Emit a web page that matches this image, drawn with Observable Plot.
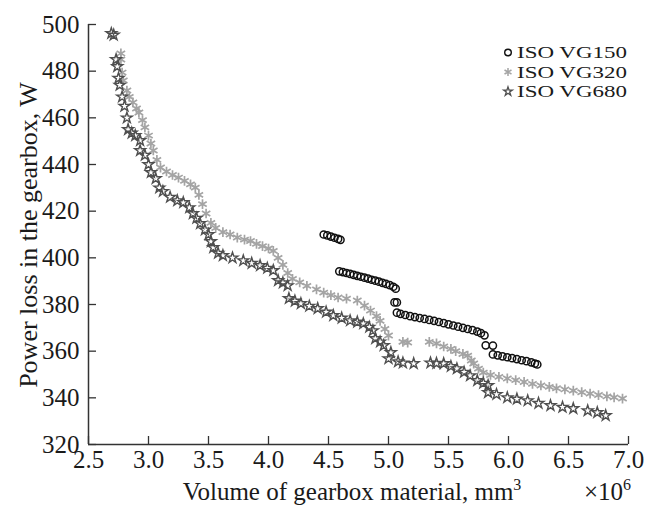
<!DOCTYPE html>
<html><head><meta charset="utf-8">
<script src="https://cdn.jsdelivr.net/npm/d3@7"></script>
<script src="https://cdn.jsdelivr.net/npm/@observablehq/plot@0.6"></script>
<style>body{margin:0;background:#fff} svg{display:block}</style>
</head><body><div id="chart"></div>
<script>
const xTicks = [2.5, 3.0, 3.5, 4.0, 4.5, 5.0, 5.5, 6.0, 6.5, 7.0];
const yTicks = [320, 340, 360, 380, 400, 420, 440, 460, 480, 500];
const seriesNames = ["ISO VG150", "ISO VG320", "ISO VG680"];
const xLabel = "Volume of gearbox material, mm";
const xLabelSup = "3";
const xScaleNote = "×10";
const xScaleSup = "6";
const yLabel = "Power loss in the gearbox, W";

const vg150 = [
  [4.46,410.0],[4.49,409.6],[4.52,409.1],[4.55,408.6],[4.58,408.1],[4.60,407.7],
  [4.59,394.2],[4.62,393.9],[4.65,393.5],[4.68,393.1],[4.71,392.7],[4.74,392.3],[4.77,391.9],[4.80,391.5],
  [4.83,391.1],[4.86,390.6],[4.89,390.2],[4.92,389.8],[4.95,389.3],[4.98,388.8],[5.01,388.3],[5.04,387.6],[5.06,386.8],
  [5.05,380.9],[5.07,380.9],
  [5.07,376.5],[5.10,376.0],[5.14,375.5],[5.18,375.0],[5.22,374.6],[5.26,374.2],[5.30,373.8],[5.34,373.4],
  [5.38,373.0],[5.42,372.5],[5.46,372.0],[5.50,371.5],[5.54,371.0],[5.58,370.5],[5.62,370.0],[5.66,369.5],
  [5.70,369.0],[5.74,368.4],[5.77,367.7],[5.80,366.8],
  [5.81,362.5],[5.87,362.4],
  [5.87,358.6],[5.91,358.2],[5.95,357.8],[5.99,357.4],[6.03,357.0],[6.07,356.6],[6.11,356.1],[6.15,355.7],
  [6.19,355.2],[6.22,354.7],[6.24,354.3]
];
const vg320 = [
  [2.77,487.6],[2.77,485.0],[2.78,479.4],[2.79,476.0],[2.82,471.7],[2.84,469.0],[2.87,466.6],[2.90,464.0],
  [2.92,462.3],[2.95,459.0],[2.97,455.9],[3.00,452.4],[3.02,449.0],[3.04,446.0],[3.07,442.0],[3.10,438.7],
  [3.15,437.0],[3.20,435.5],[3.25,434.4],[3.30,433.0],[3.35,431.5],[3.39,430.1],[3.42,427.0],[3.45,423.0],
  [3.48,419.0],[3.52,415.0],[3.56,412.8],[3.62,411.0],[3.68,410.0],[3.74,408.7],[3.80,407.8],[3.85,407.2],
  [3.90,406.0],[3.95,405.0],[4.00,404.0],[4.04,403.0],[4.08,400.0],[4.12,397.0],[4.16,393.5],[4.20,391.0],
  [4.26,389.5],[4.32,388.0],[4.40,386.5],[4.46,385.1],[4.52,384.0],[4.58,383.0],[4.65,382.5],[4.74,381.7],
  [4.80,379.5],[4.85,377.4],[4.90,375.0],[4.93,373.0],[4.97,369.5],[5.00,366.7],[5.12,364.0],[5.16,363.7],
  [5.34,364.0],[5.40,363.3],[5.46,362.0],[5.52,361.0],[5.56,360.0],[5.62,358.8],[5.66,358.1],[5.69,356.0],
  [5.71,354.7],[5.75,352.5],[5.79,350.8],[5.85,349.8],[5.92,349.0],[5.99,348.3],[6.06,347.6],[6.13,346.8],
  [6.20,346.0],[6.27,345.3],[6.34,344.7],[6.40,344.1],[6.47,343.6],[6.54,343.1],[6.61,342.4],[6.68,341.8],
  [6.75,341.2],[6.82,340.6],[6.88,340.2],[6.95,339.7]
];
const vg680 = [
  [2.69,496.2],[2.71,495.5],[2.73,485.0],[2.74,482.0],[2.75,477.0],[2.76,474.0],[2.78,469.0],[2.80,465.0],
  [2.82,460.0],[2.83,455.0],[2.86,453.5],[2.89,452.4],[2.93,450.3],[2.93,446.0],[2.97,444.0],[3.00,440.0],
  [3.02,436.6],[3.06,434.0],[3.09,430.0],[3.12,428.5],[3.18,426.0],[3.24,424.5],[3.29,423.7],[3.34,421.5],
  [3.37,419.0],[3.40,417.0],[3.43,414.7],[3.47,412.0],[3.50,410.0],[3.52,407.0],[3.54,404.4],[3.58,402.0],
  [3.62,401.0],[3.70,400.0],[3.79,398.8],[3.86,397.7],[3.93,396.7],[3.99,395.6],[4.04,394.6],[4.08,390.3],
  [4.12,389.3],[4.16,388.1],[4.17,382.6],[4.22,381.5],[4.27,380.4],[4.34,379.3],[4.41,378.3],[4.48,376.8],
  [4.54,375.3],[4.61,374.2],[4.68,373.1],[4.74,372.5],[4.79,371.8],[4.84,370.3],[4.87,368.8],[4.89,365.4],
  [4.93,364.0],[4.96,362.4],[5.02,359.4],[5.00,356.8],[5.08,355.5],[5.12,355.0],[5.21,354.7],[5.35,355.0],
  [5.40,354.8],[5.46,354.7],[5.52,353.5],[5.57,352.5],[5.63,351.0],[5.68,349.5],[5.74,347.4],[5.79,346.3],
  [5.83,345.3],[5.83,342.3],[5.90,341.5],[5.99,340.1],[6.07,339.5],[6.16,338.8],[6.25,337.7],[6.35,336.7],
  [6.45,336.0],[6.54,335.4],[6.66,334.5],[6.74,333.7],[6.81,332.4]
];

const FONT = "'Liberation Serif', 'Times New Roman', serif";
const toRows = (arr) => arr.map(([x, y]) => ({x, y}));
const x0 = xTicks[0], y0 = yTicks[0];

const chart = Plot.plot({
  width: 653, height: 510,
  marginLeft: 88, marginRight: 25, marginTop: 24, marginBottom: 66,
  style: {fontFamily: FONT, fontSize: "25px", color: "#1a1a1a", background: "#fff", overflow: "visible"},
  x: {domain: [x0, xTicks[xTicks.length - 1]]},
  y: {domain: [y0, yTicks[yTicks.length - 1]]},
  marks: [
    Plot.dot(toRows(vg320), {x: "x", y: "y", symbol: "asterisk", r: 4.6, stroke: "#a4a4a4", strokeWidth: 1.7, fill: "none"}),
    Plot.dot(toRows(vg680), {x: "x", y: "y", symbol: "star", r: 3.4, stroke: "#4f4f4f", strokeWidth: 1.4, fill: "none"}),
    Plot.dot(toRows(vg150), {x: "x", y: "y", symbol: "circle", r: 3.6, stroke: "#111", strokeWidth: 1.5, fill: "none"}),
    Plot.axisX({ticks: xTicks, tickFormat: d => d.toFixed(1), tickSize: 0, tickPadding: 6, label: null}),
    Plot.axisY({ticks: yTicks, tickSize: 0, tickPadding: 9, label: null}),
    // inward tick marks
    Plot.ruleX(xTicks, {y1: y0, y2: y0, insetBottom: 8, stroke: "#333", strokeWidth: 1.3}),
    Plot.ruleY(yTicks, {x1: x0, x2: x0, insetRight: -8, stroke: "#333", strokeWidth: 1.3}),
    Plot.ruleX([x0], {stroke: "#333", strokeWidth: 1.5}),
    Plot.ruleY([y0], {stroke: "#333", strokeWidth: 1.5})
  ]
});

const svg = d3.select(chart);
// x-axis title
const xt = svg.append("text").attr("x", 352).attr("y", 500).attr("text-anchor", "middle")
  .attr("font-family", FONT).attr("font-size", 25).attr("fill", "#1a1a1a");
xt.append("tspan").text(xLabel);
xt.append("tspan").attr("dy", -10).attr("font-size", 16).text(xLabelSup);
const xs = svg.append("text").attr("x", 584).attr("y", 500).attr("text-anchor", "start")
  .attr("font-family", FONT).attr("font-size", 25).attr("fill", "#1a1a1a");
xs.append("tspan").text(xScaleNote);
xs.append("tspan").attr("dy", -10).attr("font-size", 16).text(xScaleSup);
// y-axis title
svg.append("text").attr("transform", "translate(37,235) rotate(-90)").attr("text-anchor", "middle")
  .attr("font-family", FONT).attr("font-size", 26).attr("fill", "#1a1a1a").text(yLabel);
// legend
const legSyms = [
  {sym: d3.symbolCircle, size: Math.PI * 3.3 * 3.3, stroke: "#111", sw: 1.4},
  {sym: d3.symbolAsterisk, size: 45, stroke: "#a4a4a4", sw: 1.5},
  {sym: d3.symbolStar, size: 24, stroke: "#4f4f4f", sw: 1.3}
];
seriesNames.forEach((name, i) => {
  const g = svg.append("g").attr("transform", `translate(508,${52.5 + i * 19.5})`);
  g.append("path").attr("d", d3.symbol(legSyms[i].sym, legSyms[i].size)())
    .attr("fill", "none").attr("stroke", legSyms[i].stroke).attr("stroke-width", legSyms[i].sw);
  g.append("text").attr("x", 9).attr("y", 5.5).attr("text-anchor", "start")
    .attr("font-family", FONT).attr("font-size", 17.5).attr("fill", "#1a1a1a")
    .attr("textLength", 110).attr("lengthAdjust", "spacingAndGlyphs").text(name);
});

document.getElementById("chart").appendChild(chart);
</script>
</body></html>
